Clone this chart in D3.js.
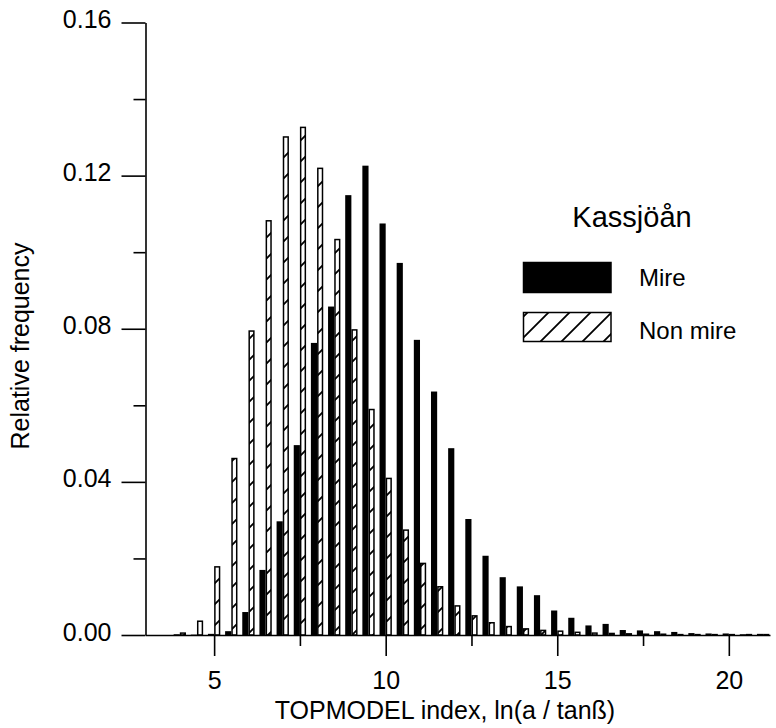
<!DOCTYPE html>
<html>
<head>
<meta charset="utf-8">
<script src="https://cdn.jsdelivr.net/npm/d3@7"></script>
<style>
  html, body { margin: 0; padding: 0; background: #fff; }
  svg { display: block; font-family: "Liberation Sans", Arial, sans-serif; }
</style>
</head>
<body>
<div id="chart"></div>
<script>
/* ------------------------------------------------------------
   Relative frequency of the TOPMODEL index, Kassjöån
   mire vs. non mire, bins every 0.5
------------------------------------------------------------ */
var BINS = [4.0, 4.5, 5.0, 5.5, 6.0, 6.5, 7.0, 7.5, 8.0, 8.5, 9.0, 9.5,
  10.0, 10.5, 11.0, 11.5, 12.0, 12.5, 13.0, 13.5, 14.0, 14.5, 15.0, 15.5,
  16.0, 16.5, 17.0, 17.5, 18.0, 18.5, 19.0, 19.5, 20.0, 20.5, 21.0];

var MIRE = [0.0002, 0.0001, 0.0003, 0.0010, 0.0060, 0.0170, 0.0297, 0.0496,
  0.0763, 0.0858, 0.1149, 0.1226, 0.1075, 0.0972, 0.0771, 0.0636, 0.0488,
  0.0303, 0.0207, 0.0151, 0.0127, 0.0104, 0.0064, 0.0045, 0.0025, 0.0029,
  0.0013, 0.0012, 0.0010, 0.0008, 0.0005, 0.0004, 0.0004, 0.0002, 0.0003];

var NON_MIRE = [0.0005, 0.0036, 0.0178, 0.0461, 0.0794, 0.1082, 0.1301,
  0.1326, 0.1219, 0.1033, 0.0797, 0.0589, 0.0409, 0.0274, 0.0187, 0.0126,
  0.0076, 0.0050, 0.0032, 0.0022, 0.0016, 0.0012, 0.0010, 0.0007, 0.0005,
  0.0004, 0.0003, 0.0002, 0.0002, 0.0001, 0.0001, 0.0001, 0.0001, 0.0001,
  0.0001];

var X_TICKS = [5, 10, 15, 20];
var X_MINOR = [7.5, 12.5, 17.5];
var Y_TICKS = [0, 0.04, 0.08, 0.12, 0.16];
var Y_MINOR = [0.02, 0.06, 0.10, 0.14];

var LEGEND_TITLE = 'Kassjöån';
var SERIES_NAMES = ['Mire', 'Non mire'];

(function () {
  'use strict';

  var W = 776, H = 728;
  var BAR_W = 0.18;   // bar width in index units
  var FONT = 25;

  var x = d3.scaleLinear().domain([3, 21.2]).range([145.5, 770]);
  var y = d3.scaleLinear().domain([0, 0.16]).range([635, 22.5]);

  var svg = d3.select('#chart').append('svg')
    .attr('width', W).attr('height', H);

  /* hatch pattern */
  var pat = svg.append('defs').append('pattern')
    .attr('id', 'hatch')
    .attr('patternUnits', 'userSpaceOnUse')
    .attr('width', 21).attr('height', 21);
  pat.append('rect').attr('width', 21).attr('height', 21).attr('fill', '#fff');
  pat.append('path')
    .attr('d', 'M-2,23 L23,-2 M-12,12 L12,-12 M9,33 L33,9')
    .attr('stroke', '#000').attr('stroke-width', 1.8);

  var rows = BINS.map(function (b, i) {
    return { bin: b, mire: MIRE[i], non: NON_MIRE[i] };
  });

  /* mire bars: left of the bin value */
  svg.append('g').selectAll('rect')
    .data(rows)
    .join('rect')
    .attr('x', function (d) { return x(d.bin - BAR_W); })
    .attr('y', function (d) { return y(d.mire); })
    .attr('width', function (d) { return x(d.bin) - x(d.bin - BAR_W); })
    .attr('height', function (d) { return y(0) - y(d.mire); })
    .attr('fill', '#000');

  /* non mire bars: right of the bin value */
  svg.append('g').selectAll('rect')
    .data(rows)
    .join('rect')
    .attr('x', function (d) { return x(d.bin) + 0.75; })
    .attr('y', function (d) { return y(d.non); })
    .attr('width', function (d) { return x(d.bin + BAR_W) - x(d.bin) - 1.5; })
    .attr('height', function (d) { return y(0) - y(d.non); })
    .attr('fill', 'url(#hatch)')
    .attr('stroke', '#000')
    .attr('stroke-width', 1.5);

  /* axes */
  var axisStyle = function (g) {
    g.select('.domain').attr('stroke-width', 1.6);
    g.selectAll('.tick line').attr('stroke-width', 1.6);
    g.selectAll('.tick text')
      .attr('font-family', '"Liberation Sans", Arial, sans-serif')
      .attr('font-size', FONT).attr('fill', '#000');
  };

  var xAxis = svg.append('g')
    .attr('transform', 'translate(0,' + y(0) + ')')
    .call(d3.axisBottom(x).tickValues(X_TICKS).tickSize(21)
      .tickFormat(d3.format('d')).tickSizeOuter(0))
    .call(axisStyle);
  xAxis.selectAll('.tick text').attr('y', 54).attr('dy', 0);

  svg.append('g')
    .attr('transform', 'translate(0,' + y(0) + ')')
    .call(d3.axisBottom(x).tickValues(X_MINOR).tickSize(11)
      .tickFormat('').tickSizeOuter(0))
    .call(axisStyle)
    .select('.domain').remove();

  var yAxis = svg.append('g')
    .attr('transform', 'translate(' + x(3) + ',0)')
    .call(d3.axisLeft(y).tickValues(Y_TICKS).tickSize(24).tickPadding(10)
      .tickFormat(d3.format('.2f')).tickSizeOuter(0))
    .call(axisStyle);
  yAxis.selectAll('.tick text').attr('dy', '0.2em');

  svg.append('g')
    .attr('transform', 'translate(' + x(3) + ',0)')
    .call(d3.axisLeft(y).tickValues(Y_MINOR).tickSize(12)
      .tickFormat('').tickSizeOuter(0))
    .call(axisStyle)
    .select('.domain').remove();

  /* axis titles */
  svg.append('text')
    .attr('x', 445).attr('y', 719)
    .attr('text-anchor', 'middle')
    .attr('font-size', FONT)
    .text('TOPMODEL index, ln(a / tanß)');

  svg.append('text')
    .attr('transform', 'translate(29,' + 346 + ') rotate(-90)')
    .attr('text-anchor', 'middle')
    .attr('font-size', FONT)
    .text('Relative frequency');

  /* legend */
  var lg = svg.append('g');
  lg.append('text')
    .attr('x', 632).attr('y', 227)
    .attr('text-anchor', 'middle')
    .attr('font-size', 29)
    .text(LEGEND_TITLE);

  lg.append('rect')
    .attr('x', 523.5).attr('y', 262.5).attr('width', 87.5).attr('height', 30)
    .attr('fill', '#000').attr('stroke', '#000').attr('stroke-width', 1.5);
  lg.append('rect')
    .attr('x', 523.5).attr('y', 312.5).attr('width', 87.5).attr('height', 29)
    .attr('fill', 'url(#hatch)').attr('stroke', '#000').attr('stroke-width', 1.5);

  lg.append('text').attr('x', 639).attr('y', 286).attr('font-size', 24)
    .text(SERIES_NAMES[0]);
  lg.append('text').attr('x', 639).attr('y', 339).attr('font-size', 24)
    .text(SERIES_NAMES[1]);
})();
</script>
</body>
</html>
